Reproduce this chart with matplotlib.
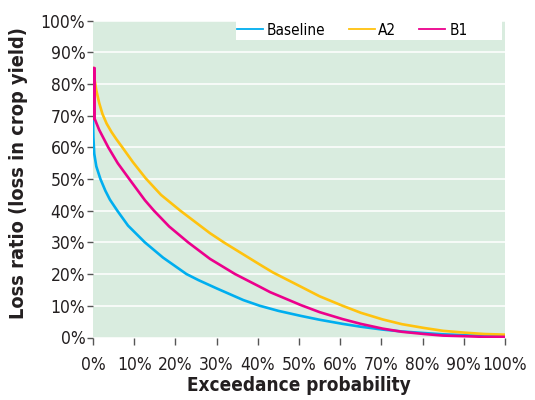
import matplotlib
matplotlib.use("Agg")
from matplotlib import pyplot as plt
from matplotlib.patches import Rectangle
from matplotlib.ticker import FuncFormatter, MultipleLocator
from matplotlib.transforms import ScaledTranslation

# exceedance probability (%) and loss ratio (%)
baseline_x = [0, 0.1, 0.3, 0.8, 1.8, 3.0, 4.1, 5.9, 8.5, 12.6, 17, 22.7, 25.6, 30, 36.5,
              40.5, 45, 50.5, 55, 60.6, 65, 70.3, 75, 80.4, 85, 90.5, 95, 100]
baseline_y = [69, 63, 58, 54, 50, 46.3, 43.5, 40, 35.3, 30, 25.2, 20, 18.1, 15.5, 11.8,
              10, 8.4, 6.8, 5.6, 4.3, 3.4, 2.5, 1.9, 1.4, 1.0, 0.7, 0.5, 0.4]

a2_x = [0, 0.3, 0.8, 1.5, 2.3, 3.3, 4.5, 5.7, 7, 9.7, 12.8, 16.5, 21.2, 28.4, 32, 40.5,
        43.7, 50.5, 55, 60.6, 65, 70.3, 75, 80.4, 85, 90.5, 95, 100]
a2_y = [85, 82, 78, 74, 70.5, 67.5, 64.8, 62.5, 60.2, 55.3, 50.2, 45, 40, 32.9, 29.8, 23,
        20.5, 16, 13, 10, 7.8, 5.7, 4.2, 3, 2.1, 1.5, 1.1, 0.9]

b1_x = [0, 0, 0.4, 0.4, 1.5, 3.7, 6, 8.8, 12.6, 14.8, 18.5, 23.1, 28.4, 34.5, 40.5,
        43, 50.5, 55, 60.6, 65, 70.3, 75, 80.4, 85, 90.5, 95, 100]
b1_y = [69, 85, 85, 69, 65.5, 60, 55, 50, 43.3, 40, 35, 30, 24.8, 20, 16,
        14.3, 10.2, 8, 5.8, 4.3, 2.8, 1.8, 1.1, 0.6, 0.4, 0.2, 0.2]

series = [("Baseline", baseline_x, baseline_y, "#00aeef"),
          ("A2", a2_x, a2_y, "#ffc20e"),
          ("B1", b1_x, b1_y, "#ec008c")]

plt.rcParams["font.family"] = ["DejaVu Sans"]
plt.rcParams["font.stretch"] = "condensed"
INK = "#231f20"

fig = plt.figure(figsize=(5.35, 4.0), dpi=100)
ax = fig.add_axes([93 / 535, 62.5 / 400, 412 / 535, 317 / 400])
ax.set_facecolor("#d9ecdf")

for name, xs, ys, col in series:
    ax.plot(xs, ys, color=col, lw=1.9, label=name, solid_joinstyle="round")

ax.set_xlim(0, 100)
ax.set_ylim(0, 100)
ax.xaxis.set_major_locator(MultipleLocator(10))
ax.yaxis.set_major_locator(MultipleLocator(10))
pct = FuncFormatter(lambda v, p: f"{v:.0f}%")
ax.xaxis.set_major_formatter(pct)
ax.yaxis.set_major_formatter(pct)

ax.grid(axis="y", color="white", lw=1.1)
ax.set_axisbelow(True)
for s in ax.spines.values():
    s.set_visible(False)
ax.tick_params(axis="y", length=4, width=1, color="#555555", pad=1.5,
               labelsize=12.5, labelcolor=INK)
ax.tick_params(axis="x", length=5, width=1, color="#555555", pad=8,
               labelsize=12.5, labelcolor=INK)

# first x label sits a little to the right of its tick
lbl = ax.get_xticklabels()[0]
lbl.set_transform(lbl.get_transform() + ScaledTranslation(0.07, 0, fig.dpi_scale_trans))

ax.set_xlabel("Exceedance probability", fontsize=13.6, fontweight="bold", color=INK)
ax.xaxis.set_label_coords(0.5, -0.152)
ax.xaxis.label.set_va("center")
ax.set_ylabel("Loss ratio (loss in crop yield)", fontsize=14.3, fontweight="bold",
              color=INK)
ax.yaxis.set_label_coords(-0.18, 0.52)
ax.yaxis.label.set_va("center")

# white legend strip, wider than its entries as in the original
ax.add_patch(Rectangle((0.347, 0.9385), 0.646, 0.0615, transform=ax.transAxes,
                       facecolor="white", edgecolor="none", zorder=3))
leg = ax.legend(loc="center left", bbox_to_anchor=(0.35, 0.969), ncol=3, frameon=False,
                fontsize=11, handlelength=1.7, handletextpad=0.25, columnspacing=1.5,
                borderpad=0, borderaxespad=0)
leg.set_zorder(4)
for h in leg.get_lines():
    h.set_linewidth(1.3)

fig.savefig("out.png", dpi=100)
